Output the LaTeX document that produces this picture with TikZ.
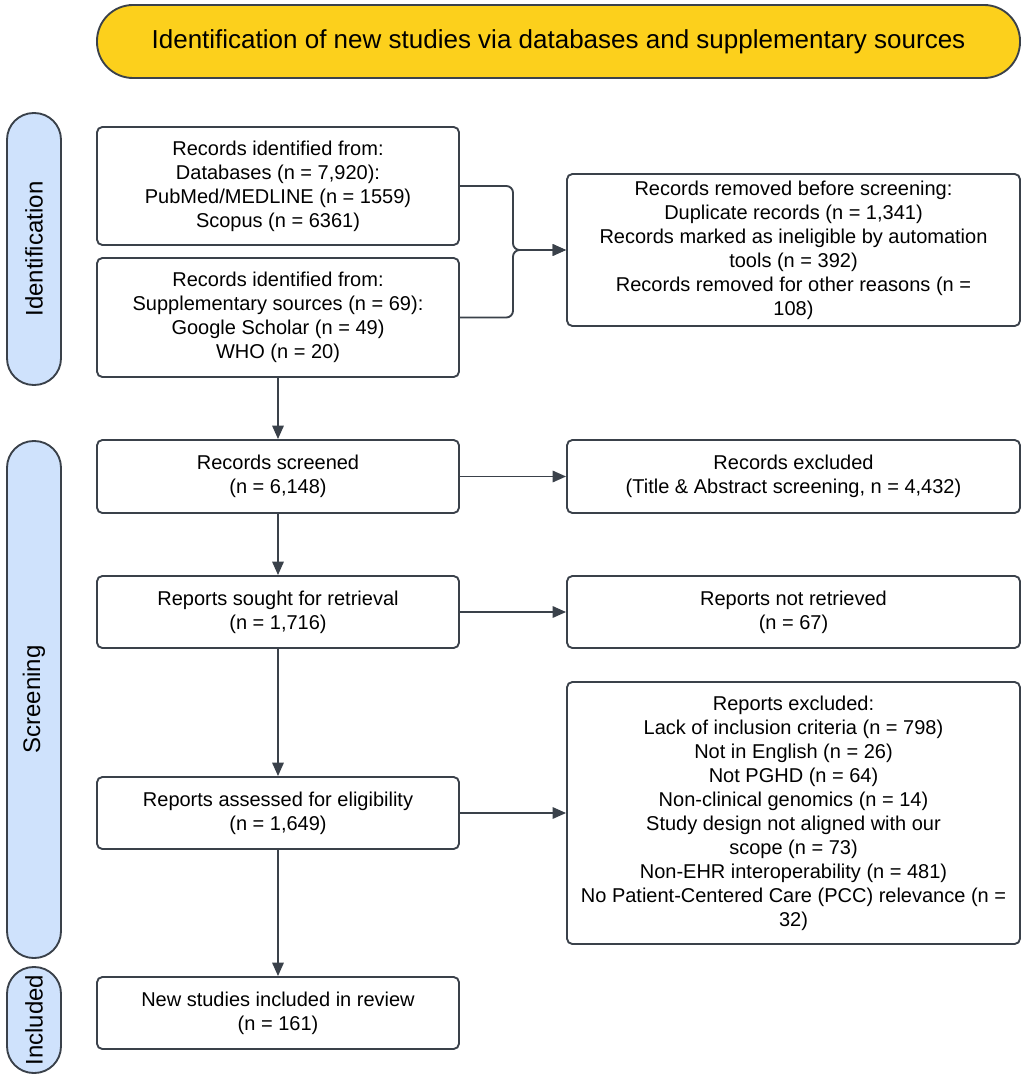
\documentclass[tikz,border=0pt]{standalone}
\usepackage{fontspec}
\setmainfont{Liberation Sans}
\usetikzlibrary{arrows.meta}
\definecolor{edgec}{HTML}{3A414A}
\definecolor{bannerfill}{HTML}{FCD01C}
\definecolor{pillfill}{HTML}{CFE2FC}
\tikzset{
  box/.style={draw=edgec, line width=1.4pt, rounded corners=4pt, fill=white, align=center,
    font=\fontsize{15}{18}\selectfont, inner sep=0pt},
  pill/.style={draw=edgec, line width=1.4pt, rounded corners=20pt, fill=pillfill, align=center,
    font=\fontsize{18}{21}\selectfont, inner sep=0pt, rotate=90, minimum height=40.5pt},
  banner/.style={draw=edgec, line width=1.4pt, rounded corners=27pt, fill=bannerfill, align=center,
    font=\fontsize{19.5}{23}\selectfont, inner sep=0pt},
  conn/.style={draw=edgec, line width=1.4pt},
  arr/.style={conn, -{Triangle[length=10pt,width=8.5pt]}},
  leftbox/.style={box, minimum width=271.5pt},
  rightbox/.style={box, minimum width=339.75pt}
}
\begin{document}
\begin{tikzpicture}[x=0.75pt, y=-0.75pt]
\useasboundingbox (0,0) rectangle (1026,1080);

\node[banner, minimum width=692.25pt, minimum height=54.75pt] (banner) at (558.5,41.5)
  {Identification of new studies via databases and supplementary sources};

\node[pill, minimum width=204pt] (pid) at (34,249) {Identification};
\node[pill, minimum width=387.75pt] (pscr) at (34,699.5) {Screening};
\node[pill, minimum width=79.5pt] (pinc) at (34,1020) {Included};

\node[leftbox, minimum height=88.5pt] (db) at (278,186)
  {Records identified from:\\Databases (n = 7,920):\\PubMed/MEDLINE (n = 1559)\\Scopus (n = 6361)};
\node[leftbox, minimum height=89.25pt] (supp) at (278,317.5)
  {Records identified from:\\Supplementary sources (n = 69):\\Google Scholar (n = 49)\\WHO (n = 20)};
\node[rightbox, minimum height=114pt] (removed) at (793.5,250)
  {Records removed before screening:\\Duplicate records (n = 1,341)\\Records marked as ineligible by automation\\tools (n = 392)\\Records removed for other reasons (n =\\108)};

\node[leftbox, minimum height=54.75pt] (screened) at (278,476.5)
  {Records screened\\(n = 6,148)};
\node[rightbox, minimum height=54.75pt] (excl) at (793.5,476.5)
  {Records excluded\\(Title \& Abstract screening, n = 4,432)};

\node[leftbox, minimum height=54pt] (sought) at (278,612)
  {Reports sought for retrieval\\(n = 1,716)};
\node[rightbox, minimum height=54pt] (notret) at (793.5,612)
  {Reports not retrieved\\(n = 67)};

\node[leftbox, minimum height=54pt] (assessed) at (278,813)
  {Reports assessed for eligibility\\(n = 1,649)};
\node[rightbox, minimum height=196.5pt] (repexcl) at (793.5,813)
  {Reports excluded:\\Lack of inclusion criteria (n = 798)\\Not in English (n = 26)\\Not PGHD (n = 64)\\Non-clinical genomics (n = 14)\\Study design not aligned with our\\scope (n = 73)\\Non-EHR interoperability (n = 481)\\No Patient-Centered Care (PCC) relevance (n =\\32)};

\node[leftbox, minimum height=54pt] (included) at (278,1013)
  {New studies included in review\\(n = 161)};

\coordinate (join) at (513,250);
\draw[arr, rounded corners=5pt] (db.east) -| (join) -- (removed.west);
\draw[arr, rounded corners=5pt] (supp.east) -| (join) -- (removed.west);

\draw[arr] (supp.south) -- (screened.north);
\draw[arr] (screened.east) -- (excl.west);
\draw[arr] (screened.south) -- (sought.north);
\draw[arr] (sought.east) -- (notret.west);
\draw[arr] (sought.south) -- (assessed.north);
\draw[arr] (assessed.east) -- (repexcl.west);
\draw[arr] (assessed.south) -- (included.north);
\end{tikzpicture}
\end{document}
